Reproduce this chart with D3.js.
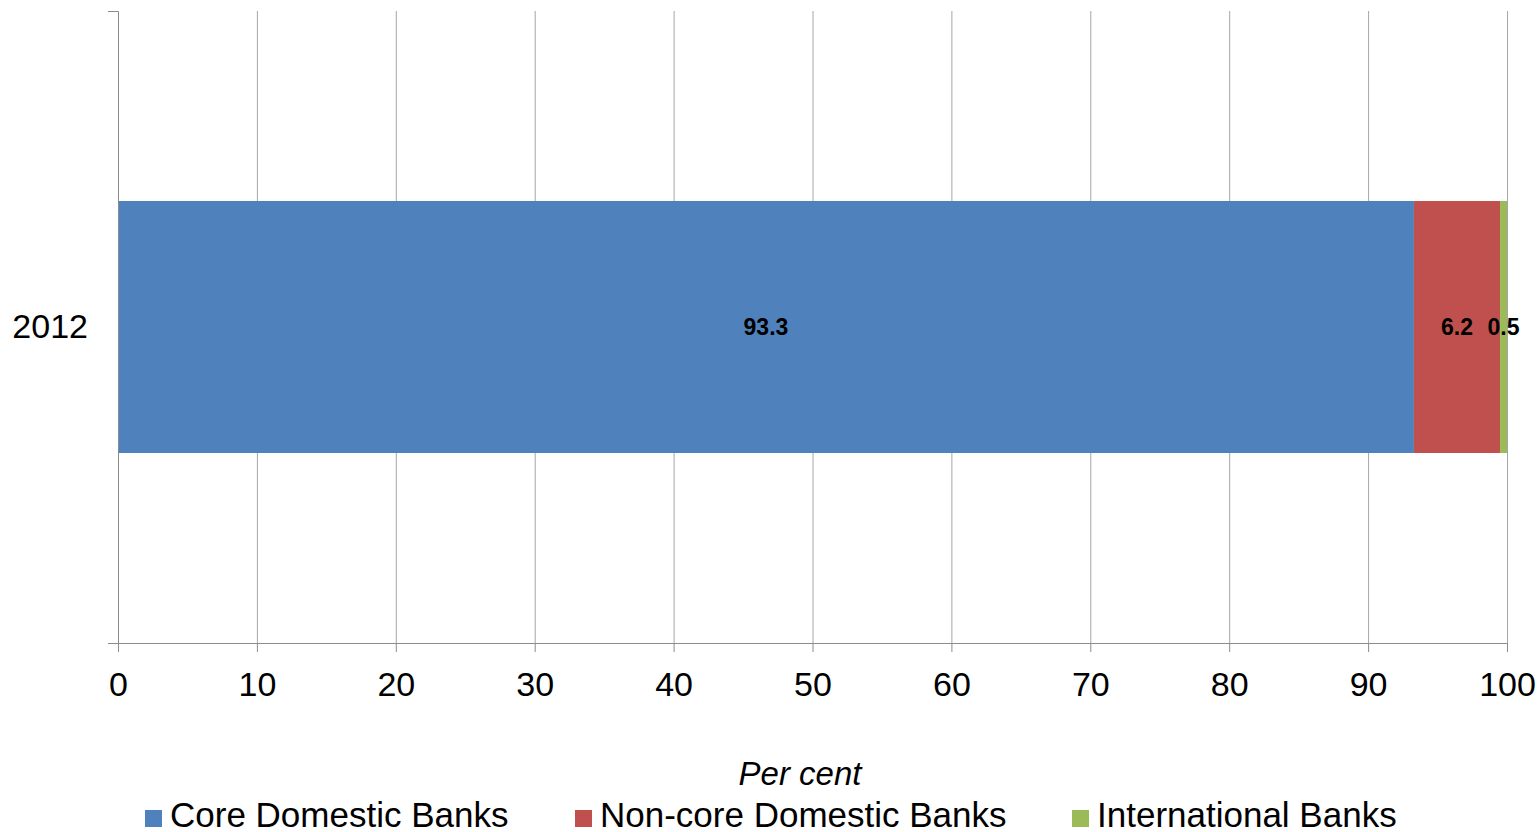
<!DOCTYPE html>
<html><head><meta charset="utf-8">
<script src="https://cdn.jsdelivr.net/npm/d3@7"></script>
<style>body{margin:0;background:#fff;} svg{display:block;font-family:"Liberation Sans",Arial,sans-serif;}</style>
</head><body>
<svg id="chart" width="1540" height="832"></svg>
<script>
const categories = ["2012"];
const seriesNames = ["Core Domestic Banks", "Non-core Domestic Banks", "International Banks"];
const coreValues = [93.3];
const nonCoreValues = [6.2];
const internationalValues = [0.5];
const xTicks = [0,10,20,30,40,50,60,70,80,90,100];
const colors = ["#4F81BD", "#C0504D", "#9BBB59"];

(function(){
const svg = d3.select("#chart");
const pLeft = 118, pRight = 1507, pTop = 11, pBottom = 643;
const x = d3.scaleLinear().domain([0,100]).range([pLeft,pRight]);
const y = d3.scaleBand().domain(categories).range([pTop,pBottom]).paddingInner(0).paddingOuter(0.754);

const rows = categories.map((c,i)=>({cat:c, v:[coreValues[i], nonCoreValues[i], internationalValues[i]]}));

// gridlines
svg.append("g").selectAll("line").data(xTicks.filter(t=>t>0)).join("line")
  .attr("x1",d=>x(d)+0.5).attr("x2",d=>x(d)+0.5).attr("y1",pTop).attr("y2",pBottom)
  .attr("stroke","#a6a6a6").attr("stroke-width",1);

// bars
rows.forEach(r=>{
  let acc=0;
  r.v.forEach((v,j)=>{
    svg.append("rect").attr("x",x(acc)).attr("y",y(r.cat))
      .attr("width",x(acc+v)-x(acc)).attr("height",y.bandwidth()).attr("fill",colors[j]);
    acc+=v;
  });
  acc=0;
  r.v.forEach((v,j)=>{
    svg.append("text").attr("x",x(acc+v/2)).attr("y",y(r.cat)+y.bandwidth()/2)
      .attr("text-anchor","middle").attr("dominant-baseline","central")
      .attr("font-size",23).attr("font-weight","bold").attr("fill","#000")
      .text(v.toFixed(1));
    acc+=v;
  });
});

// x axis
const xAxis = svg.append("g").attr("transform",`translate(0,${pBottom})`)
  .call(d3.axisBottom(x).tickValues(xTicks).tickSize(9).tickPadding(20).tickSizeOuter(0));
xAxis.select(".domain").attr("stroke","#8c8c8c").attr("d",`M${pLeft-10},0.5H${pRight}`);
xAxis.selectAll(".tick line").attr("stroke","#8c8c8c");
xAxis.selectAll(".tick text").attr("font-size",34).attr("fill","#000").attr("font-family","Liberation Sans, Arial, sans-serif");

// y axis
const yAxis = svg.append("g").attr("transform",`translate(${pLeft},0)`)
  .call(d3.axisLeft(y).tickSize(0).tickPadding(30));
yAxis.select(".domain").attr("stroke","#8c8c8c").attr("d",`M-10,${pTop+0.5}H0.5V${pBottom}`);
yAxis.selectAll(".tick text").attr("font-size",34).attr("fill","#000").attr("font-family","Liberation Sans, Arial, sans-serif");

// axis title
svg.append("text").attr("x",800).attr("y",785).attr("text-anchor","middle")
  .attr("font-size",33).attr("font-style","italic").attr("fill","#000").text("Per cent");

// legend
const legendX = [145, 575, 1072];
const lg = svg.append("g").selectAll("g").data(seriesNames).join("g")
  .attr("transform",(d,i)=>`translate(${legendX[i]},0)`);
lg.append("rect").attr("x",0).attr("y",810).attr("width",17).attr("height",17).attr("fill",(d,i)=>colors[i]);
lg.append("text").attr("x",25).attr("y",827).attr("font-size",35).attr("fill","#000").text(d=>d);
})();
</script>
</body></html>
